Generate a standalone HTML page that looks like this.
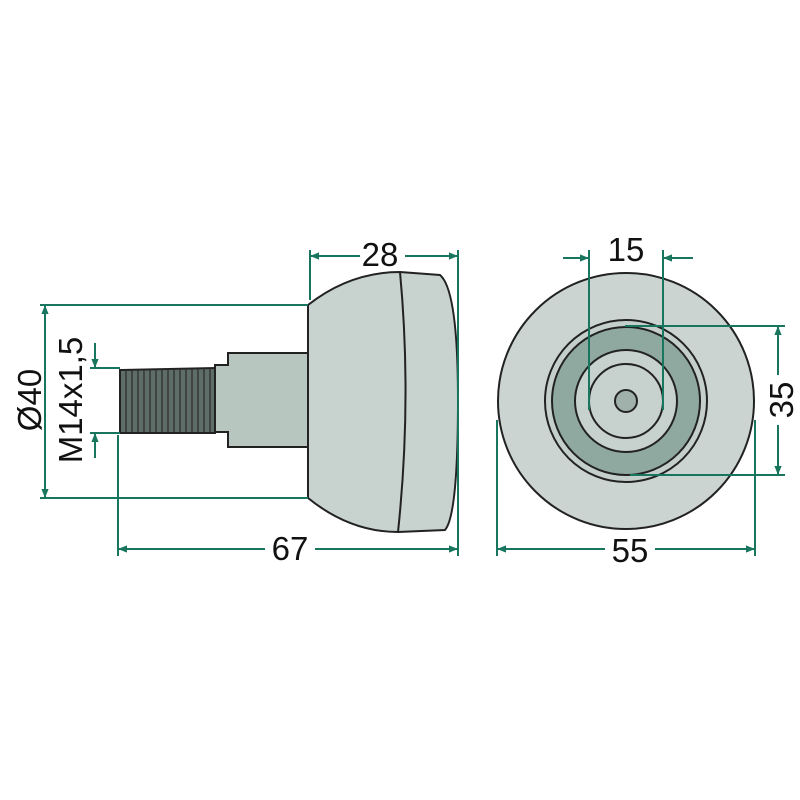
<!DOCTYPE html>
<html><head><style>body{margin:0;background:#fff}svg{display:block}</style></head><body>
<svg width="800" height="800" viewBox="0 0 800 800" xmlns="http://www.w3.org/2000/svg" font-family="Liberation Sans, sans-serif">
<defs>
<marker id="a" viewBox="0 0 10 10" refX="10" refY="5" markerWidth="16" markerHeight="9" orient="auto-start-reverse" markerUnits="userSpaceOnUse"><path d="M0,1 L10,5 L0,9 Z" fill="#17765d"/></marker>
</defs>
<rect width="800" height="800" fill="#fff"/>
<g stroke="#222" stroke-width="2">
<path d="M120,370 L215,368 L215,433 L120,433 Z" fill="#5f6d69"/>
<g stroke="#2a2a2a" stroke-width="1.2">
<path d="M126,369 v64 M132,369 v64 M138,369 v64 M144,369 v64 M150,369 v64 M156,369 v64 M162,369 v64 M168,369 v64 M174,369 v64 M180,369 v64 M186,369 v64 M192,369 v64 M198,369 v64 M204,369 v64 M210,369 v64"/>
</g>
<path d="M228,353 L308,353 L308,447 L228,447 L228,432 L215,432 L215,365 L228,365 Z" fill="#b7c6bf"/>
<path d="M308,305 Q350,272 400,272 L440,275 Q458,290 458,400 Q458,515 445,530 L398,532 Q350,532 308,498 Z" fill="#c8d2ce"/>
<path d="M400,272 Q412,400 398,532" fill="none"/>
</g>
<circle cx="626" cy="401" r="128" fill="#cbd4d1" stroke="#222" stroke-width="2"/>
<circle cx="626" cy="401" r="81" fill="#c4cfcb" stroke="#222" stroke-width="2"/>
<circle cx="626" cy="401" r="74" fill="#8fa9a0" stroke="#222" stroke-width="2"/>
<circle cx="626" cy="401" r="51" fill="#c7d1cd" stroke="#222" stroke-width="2"/>
<circle cx="626" cy="401" r="37" fill="#c7d1cd" stroke="#222" stroke-width="2"/>
<circle cx="626" cy="401" r="11" fill="#9fb1aa" stroke="#222" stroke-width="2"/>
<g stroke="#17765d" stroke-width="2" fill="none">
<path d="M310,250 V300 M458,250 V548 M40,305 H308 M40,498 H308 M118,435 V556 M458,556 V548 M90,368 H120 M90,433 H120"/>
<line x1="360" y1="256" x2="310" y2="256" marker-end="url(#a)"/>
<line x1="405" y1="256" x2="458" y2="256" marker-end="url(#a)"/>
<line x1="45" y1="400" x2="45" y2="305" marker-end="url(#a)"/>
<line x1="45" y1="400" x2="45" y2="498" marker-end="url(#a)"/>
<line x1="95" y1="343" x2="95" y2="368" marker-end="url(#a)"/>
<line x1="95" y1="458" x2="95" y2="433" marker-end="url(#a)"/>
<line x1="265" y1="549" x2="118" y2="549" marker-end="url(#a)"/>
<line x1="315" y1="549" x2="458" y2="549" marker-end="url(#a)"/>
<path d="M497,420 V556 M755,420 V556 M589,250 V410 M663,250 V410 M625,326 H785 M630,475 H785"/>
<line x1="605" y1="549" x2="497" y2="549" marker-end="url(#a)"/>
<line x1="655" y1="549" x2="755" y2="549" marker-end="url(#a)"/>
<line x1="563" y1="258" x2="589" y2="258" marker-end="url(#a)"/>
<line x1="693" y1="258" x2="663" y2="258" marker-end="url(#a)"/>
<line x1="778" y1="375" x2="778" y2="326" marker-end="url(#a)"/>
<line x1="778" y1="425" x2="778" y2="475" marker-end="url(#a)"/>
</g>
<g fill="#111" font-size="33">
<text x="380" y="266" text-anchor="middle">28</text>
<text x="290" y="560" text-anchor="middle">67</text>
<text x="630" y="562" text-anchor="middle">55</text>
<text x="626" y="261" text-anchor="middle">15</text>
<text transform="translate(793,400) rotate(-90)" text-anchor="middle">35</text>
<text transform="translate(41,400) rotate(-90)" text-anchor="middle">Ø40</text>
<text transform="translate(82,400) rotate(-90)" text-anchor="middle">M14x1,5</text>
</g>
</svg>
</body></html>
